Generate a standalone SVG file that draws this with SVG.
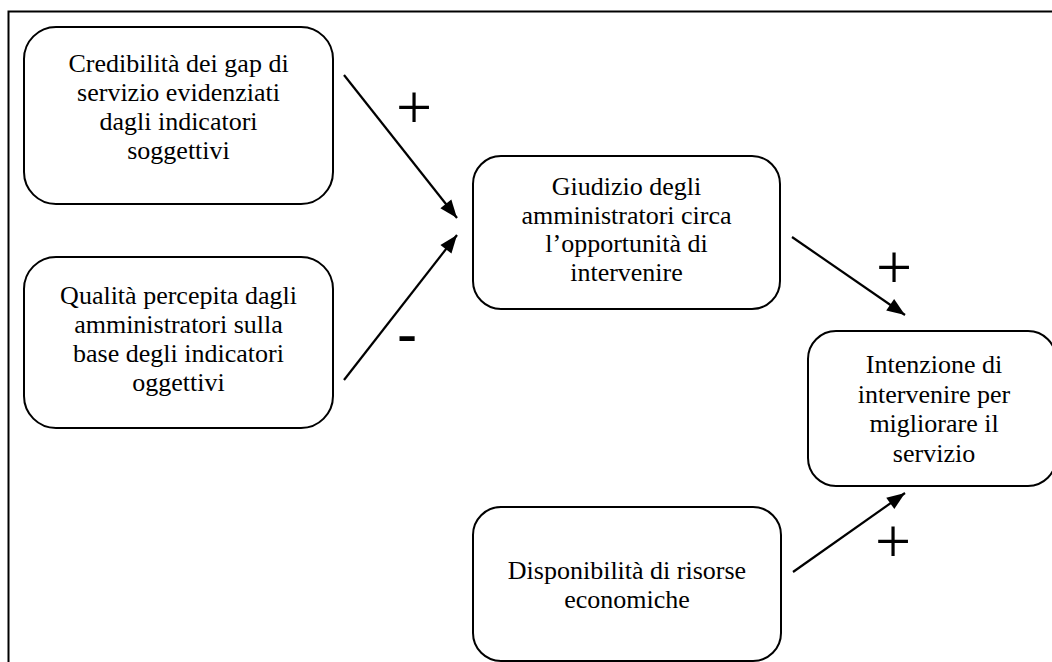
<svg xmlns="http://www.w3.org/2000/svg" width="1052" height="662" viewBox="0 0 1052 662">
<style>
.box{fill:#fff;stroke:#000;stroke-width:2}
.t{font-family:'Liberation Serif',serif;font-size:26px;fill:#000;text-anchor:middle}
.c{stroke:#000;stroke-width:2.2;fill:none}
.s{font-family:'Liberation Serif',serif;font-size:64px;fill:#000;text-anchor:middle}
.m{font-family:'Liberation Sans',sans-serif;font-size:62px;fill:#000;text-anchor:middle}
</style>
<defs>
<marker id="ah" viewBox="0 0 18 14" refX="18" refY="7" markerWidth="18" markerHeight="14" markerUnits="userSpaceOnUse" orient="auto" overflow="visible">
<path d="M0,0 L18,7 L0,14 z" fill="#000"/>
</marker>
</defs>
<rect x="0" y="0" width="1052" height="662" fill="#fff"/>
<rect x="8.5" y="11.5" width="1100" height="700" fill="none" stroke="#000" stroke-width="2"/>
<g id="n1">
<rect class="box" x="24" y="27" width="309" height="177" rx="32"/>
<text class="t" x="178.5" y="72">Credibilità dei gap di</text>
<text class="t" x="178.5" y="101">servizio evidenziati</text>
<text class="t" x="178.5" y="130">dagli indicatori</text>
<text class="t" x="178.5" y="159">soggettivi</text>
</g>
<g id="n2">
<rect class="box" x="24" y="257" width="309" height="171" rx="32"/>
<text class="t" x="178.5" y="304">Qualità percepita dagli</text>
<text class="t" x="178.5" y="333">amministratori sulla</text>
<text class="t" x="178.5" y="362">base degli indicatori</text>
<text class="t" x="178.5" y="391">oggettivi</text>
</g>
<g id="n3">
<rect class="box" x="473" y="156" width="307" height="153" rx="28"/>
<text class="t" x="626.5" y="195">Giudizio degli</text>
<text class="t" x="626.5" y="223.5">amministratori circa</text>
<text class="t" x="626.5" y="252">l’opportunità di</text>
<text class="t" x="626.5" y="280.5">intervenire</text>
</g>
<g id="n4">
<rect class="box" x="808" y="331" width="248" height="155" rx="28"/>
<text class="t" x="934" y="373">Intenzione di</text>
<text class="t" x="934" y="403">intervenire per</text>
<text class="t" x="934" y="432">migliorare il</text>
<text class="t" x="934" y="462">servizio</text>
</g>
<g id="n5">
<rect class="box" x="473" y="507" width="308" height="154" rx="28"/>
<text class="t" x="627" y="579">Disponibilità di risorse</text>
<text class="t" x="627" y="608">economiche</text>
</g>
<g id="connectors">
<line class="c" x1="344" y1="75" x2="457" y2="218" marker-end="url(#ah)"/>
<line class="c" x1="344" y1="380" x2="457" y2="235" marker-end="url(#ah)"/>
<line class="c" x1="792" y1="237" x2="905" y2="315" marker-end="url(#ah)"/>
<line class="c" x1="793" y1="572" x2="905" y2="493" marker-end="url(#ah)"/>
<text class="s" x="414" y="129">+</text>
<text class="m" x="407" y="355">-</text>
<text class="s" x="894" y="289">+</text>
<text class="s" x="893" y="563">+</text>
</g>
</svg>
